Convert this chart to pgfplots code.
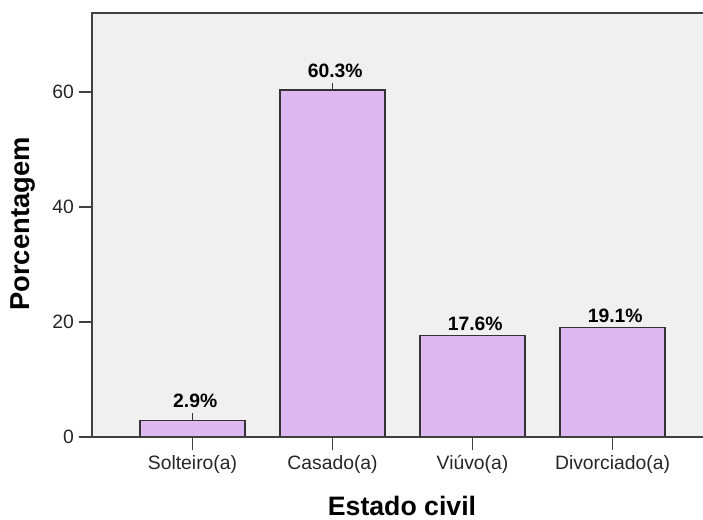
\documentclass[border=0pt]{standalone}
\usepackage{fontspec}
\setmainfont{Liberation Sans}
\usepackage{pgfplots}
\usepackage{pgfplotstable}
\pgfplotsset{compat=1.18}
\definecolor{bg}{HTML}{F0F0F0}
\definecolor{barfill}{HTML}{DEB8F0}
\definecolor{axc}{HTML}{404040}
\pgfplotstableread{
x y e s
0 2.9 1.2 8
1 60.3 1.2 8
2 17.6 0 2
3 19.1 0 2
}\datatable
\begin{document}
\begin{tikzpicture}
\path[use as bounding box] (0,0) rectangle (527.25pt,390pt);
\begin{axis}[
  at={(69pt,62.25pt)}, anchor=south west,
  scale only axis, width=458.25pt, height=318pt,
  xmin=-0.718, xmax=3.646, ymin=0, ymax=73.7,
  clip=false,
  axis background/.style={fill=bg},
  axis line style={draw=none},
  xtick={0,1,2,3},
  xticklabels={Solteiro(a),Casado(a),Viúvo(a),Divorciado(a)},
  ytick={0,20,40,60},
  tick align=outside,
  xtick pos=bottom, ytick pos=left,
  major tick length=10pt,
  tick style={axc, line width=1.2pt},
  ticklabel style={font=\fontsize{14.5}{16}\selectfont, text=black!85},
  /pgf/number format/assume math mode=true,
]
\addplot[ybar, bar width=0.75, fill=barfill, draw=black!80, line width=0.9pt,
  nodes near coords={\pgfmathprintnumber[fixed,fixed zerofill,precision=1]{\pgfplotspointmeta}\%},
  visualization depends on={\thisrow{s} \as \labshift},
  every node near coord/.append style={font=\bfseries\fontsize{14.5}{16}\selectfont, anchor=south, yshift=\labshift pt, xshift=2pt, inner sep=1pt, text=black},
  error bars/.cd, y dir=plus, y explicit, error mark=none,
  error bar style={black!80, line width=0.8pt}]
  table[x=x, y=y, y error=e]{\datatable};
\draw[axc, line width=1.5pt] (rel axis cs:1,1) -- (rel axis cs:0,1) -- (rel axis cs:0,0) -- (rel axis cs:1,0);
\end{axis}
\node[rotate=90, font=\bfseries\fontsize{20.5}{24}\selectfont] at (17pt,222pt) {Porcentagem};
\node[font=\bfseries\fontsize{20}{24}\selectfont, inner sep=1pt] at (301.5pt,10.5pt) {Estado civil};
\end{tikzpicture}
\end{document}
